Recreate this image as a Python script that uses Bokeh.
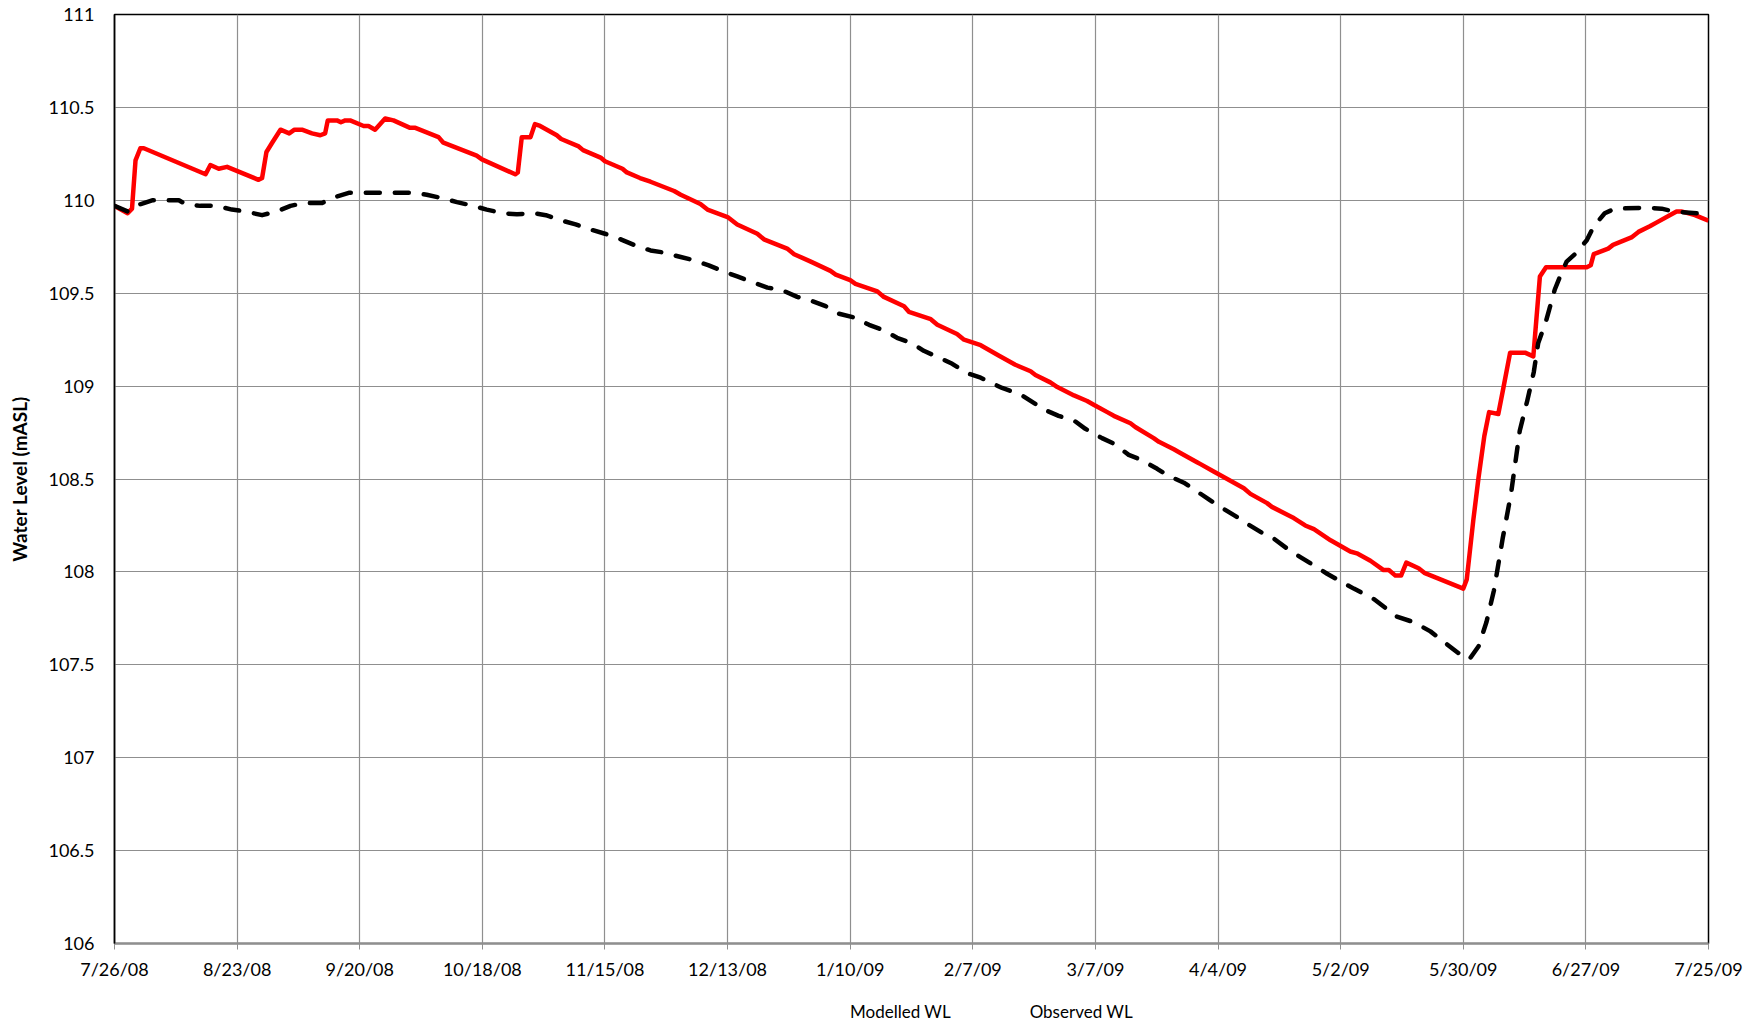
from bokeh.plotting import figure
from bokeh.layouts import column
from bokeh.models import FixedTicker, Legend, LegendItem, Range1d
from bokeh.embed import file_html
from bokeh.resources import INLINE

# ---- data (days since 7/26/08) ----
x_tick_days = [0, 28, 56, 84, 112, 140, 168, 196, 224, 252, 280, 308, 336, 364]
x_tick_labels = ["7/26/08", "8/23/08", "9/20/08", "10/18/08", "11/15/08", "12/13/08",
                 "1/10/09", "2/7/09", "3/7/09", "4/4/09", "5/2/09", "5/30/09",
                 "6/27/09", "7/25/09"]
y_ticks = [106, 106.5, 107, 107.5, 108, 108.5, 109, 109.5, 110, 110.5, 111]
y_tick_labels = ["106", "106.5", "107", "107.5", "108", "108.5", "109", "109.5",
                 "110", "110.5", "111"]
series_names = ["Modelled WL", "Observed WL"]

modelled_day = [0, 3, 4, 4.8, 5.9, 6.7, 20.8, 21.9, 23.8, 25.7, 32.9, 33.7, 34.7, 36,
                37.9, 39.9, 41.1, 42.8, 45.1, 47, 48.1, 48.7, 50.8, 51.7, 52.7, 53.8,
                56.9, 58, 59.5, 61.8, 63.7, 67.5, 68.7, 74, 75.1, 82.7, 83.9, 91.5,
                92.1, 93, 95, 96, 97.2, 101, 102, 106, 107, 111, 112, 116, 117, 120,
                122.4, 127.8, 129.3, 133.8, 135.4, 140, 142.2, 146.8, 148.3, 153.6,
                155.2, 159, 163.5, 164.7, 168, 169.2, 174.2, 175.7, 180.3, 181.4,
                186.4, 187.9, 192.4, 194, 197.8, 201.9, 205.7, 209.2, 210.3, 213.7,
                215.3, 219.1, 222.1, 223.6, 226.7, 228.2, 232, 233.1, 237.3, 238.5,
                241.9, 243.4, 247.2, 248, 251, 254.1, 257.9, 259.4, 263.2, 264.3,
                268.5, 269.3, 271.9, 273.9, 277.7, 279.2, 282.2, 283.7, 286.8, 289.8,
                291, 292.5, 293.8, 295, 297.8, 299.1, 308, 308.8, 310.3, 311.5, 312.8,
                313.9, 316, 317.2, 318.7, 322.1, 324, 325.5, 326.9, 336.2, 337.1,
                337.8, 341.1, 342.2, 346.4, 348, 350.6, 352.1, 356.7, 357.8, 360.9, 364]
modelled_wl = [109.97, 109.93, 109.955, 110.215, 110.28, 110.28, 110.14, 110.19, 110.17,
               110.18, 110.11, 110.12, 110.26, 110.31, 110.38, 110.36, 110.38, 110.38,
               110.36, 110.35, 110.36, 110.43, 110.43, 110.42, 110.43, 110.43, 110.40,
               110.40, 110.38, 110.44, 110.43, 110.39, 110.39, 110.34, 110.31, 110.24,
               110.22, 110.14, 110.15, 110.34, 110.34, 110.41, 110.40, 110.35, 110.33,
               110.29, 110.27, 110.23, 110.21, 110.17, 110.15, 110.12, 110.10, 110.05,
               110.03, 109.98, 109.95, 109.91, 109.87, 109.82, 109.79, 109.74, 109.71,
               109.67, 109.62, 109.60, 109.57, 109.55, 109.51, 109.48, 109.43, 109.40,
               109.36, 109.33, 109.28, 109.25, 109.22, 109.165, 109.115, 109.08, 109.06,
               109.02, 108.995, 108.95, 108.92, 108.90, 108.86, 108.84, 108.80, 108.78,
               108.72, 108.70, 108.66, 108.64, 108.59, 108.58, 108.54, 108.50, 108.45,
               108.42, 108.37, 108.35, 108.30, 108.29, 108.25, 108.23, 108.17, 108.15,
               108.11, 108.10, 108.06, 108.01, 108.01, 107.98, 107.98, 108.05, 108.02,
               107.995, 107.91, 107.96, 108.28, 108.51, 108.73, 108.86, 108.85, 108.995,
               109.18, 109.18, 109.16, 109.59, 109.64, 109.64, 109.65, 109.71, 109.74,
               109.76, 109.80, 109.83, 109.86, 109.88, 109.94, 109.94, 109.92, 109.89]

observed_day = [0, 3, 4.4, 6, 8.6, 12.8, 14.7, 16.2, 19.6, 23.4, 26.8, 29.9, 33.7, 37.1,
                40.2, 43.2, 47.4, 49.3, 53.5, 57.6, 64.1, 68.3, 71.3, 75.1, 78.2, 82, 85,
                88.8, 91.9, 95.8, 98.5, 102.3, 105.3, 109.1, 112, 115.6, 118.6, 122.4,
                125.1, 129.3, 131.9, 135.7, 138.8, 142.2, 145.6, 149.1, 152.1, 155.9,
                159, 162.4, 165.4, 168.8, 172.3, 175.7, 178.7, 182.2, 184.8, 188.6,
                191.3, 194.7, 197.8, 202.7, 206.9, 209.2, 212.6, 215.6, 219.4, 221.7,
                225.5, 228.2, 231.6, 234.3, 238.1, 240.4, 244.2, 246.8, 249.9, 252.5,
                256, 258.6, 262.1, 264.7, 268.1, 270.8, 274.2, 276.9, 279.9, 283, 287.5,
                292.8, 296.6, 300.5, 304.3, 307.6, 309.4, 311.5, 313.3, 315, 317, 318.9,
                320.9, 322.6, 324.1, 325.1, 326.9, 328.9, 330.1, 331.6, 333.5, 336.2,
                337.8, 340.3, 342.6, 349.9, 353.3, 356, 361.3, 364]
observed_wl = [109.97, 109.94, 109.955, 109.98, 110.00, 110.00, 110.00, 109.98, 109.97,
               109.97, 109.95, 109.94, 109.92, 109.94, 109.97, 109.985, 109.985, 110.01,
               110.04, 110.04, 110.04, 110.04, 110.03, 110.01, 109.99, 109.97, 109.95,
               109.93, 109.925, 109.93, 109.92, 109.89, 109.87, 109.84, 109.82, 109.79,
               109.76, 109.73, 109.72, 109.695, 109.68, 109.65, 109.62, 109.59, 109.56,
               109.53, 109.52, 109.48, 109.46, 109.43, 109.39, 109.37, 109.33, 109.30,
               109.26, 109.23, 109.19, 109.15, 109.12, 109.07, 109.045, 108.99, 108.955,
               108.92, 108.87, 108.84, 108.81, 108.77, 108.72, 108.69, 108.63, 108.605,
               108.555, 108.52, 108.48, 108.44, 108.39, 108.35, 108.30, 108.26, 108.21,
               108.18, 108.12, 108.08, 108.03, 107.99, 107.95, 107.91, 107.855, 107.76,
               107.73, 107.68, 107.61, 107.55, 107.53, 107.60, 107.73, 107.90, 108.18,
               108.42, 108.76, 108.92, 109.075, 109.23, 109.35, 109.52, 109.59, 109.67,
               109.71, 109.785, 109.86, 109.93, 109.955, 109.96, 109.955, 109.94, 109.93,
               109.91]

FONT = "Lato"
RED = "#ff0000"
BLACK = "#000000"
DASH = "14 15"

# ---------------- main chart ----------------
p = figure(width=1748, height=985, output_backend="svg", toolbar_location=None,
           x_range=Range1d(0, 364), y_range=Range1d(106, 111),
           min_border_left=114, min_border_right=40, min_border_top=14,
           min_border_bottom=42)
p.background_fill_color = "white"
p.border_fill_color = "white"
p.outline_line_color = "#000000"
p.outline_line_width = 1.5

p.xgrid.ticker = FixedTicker(ticks=x_tick_days)
p.ygrid.ticker = FixedTicker(ticks=y_ticks)
for g in (p.xgrid, p.ygrid):
    g.grid_line_color = "#8f8f8f"
    g.grid_line_width = 1.2

xa = p.xaxis[0]
xa.ticker = FixedTicker(ticks=x_tick_days)
xa.major_label_overrides = {d: l for d, l in zip(x_tick_days, x_tick_labels)}
xa.axis_line_color = "#8f8f8f"
xa.axis_line_width = 2
xa.major_tick_line_color = "#8f8f8f"
xa.major_tick_out = 6
xa.major_tick_in = 0
xa.minor_tick_line_color = None
xa.major_label_text_font = FONT
xa.major_label_text_font_size = "18px"
xa.major_label_text_color = "#000000"
xa.major_label_standoff = 8

ya = p.yaxis[0]
ya.ticker = FixedTicker(ticks=y_ticks)
ya.major_label_overrides = {t: l for t, l in zip(y_ticks, y_tick_labels)}
ya.axis_line_color = "#000000"
ya.axis_line_width = 1.5
ya.major_tick_line_color = None
ya.minor_tick_line_color = None
ya.major_tick_out = 0
ya.major_tick_in = 0
ya.major_label_text_font = FONT
ya.major_label_text_font_size = "18px"
ya.major_label_text_color = "#000000"
ya.major_label_standoff = 20
ya.axis_label = "Water Level (mASL)"
ya.axis_label_text_font = FONT
ya.axis_label_text_font_style = "bold"
ya.axis_label_text_font_size = "19px"
ya.axis_label_text_color = "#000000"
ya.axis_label_standoff = 14

p.line(modelled_day, modelled_wl, line_color=RED, line_width=4.5, line_join="round")
p.line(observed_day, observed_wl, line_color=BLACK, line_width=4.5,
       line_dash=DASH, line_cap="round", line_join="round")

# ---------------- legend strip below the chart ----------------
lg = figure(width=1748, height=39, output_backend="svg", toolbar_location=None,
            x_axis_type=None, y_axis_type=None,
            x_range=Range1d(0, 1), y_range=Range1d(0, 1),
            min_border_left=0, min_border_right=0, min_border_top=0,
            min_border_bottom=0)
lg.outline_line_color = None
lg.background_fill_color = "white"
lg.border_fill_color = "white"
lg.xgrid.visible = False
lg.ygrid.visible = False
k_mod = lg.line(x=[], y=[], line_color=RED, line_width=4.5)
k_obs = lg.line(x=[], y=[], line_color=BLACK, line_width=4.5,
                line_dash=DASH, line_cap="round")

legend = Legend(items=[LegendItem(label=series_names[0], renderers=[k_mod]),
                       LegendItem(label=series_names[1], renderers=[k_obs])],
                orientation="horizontal", location=(683, 2))
legend.glyph_width = 49
legend.glyph_height = 20
legend.label_height = 20
legend.label_standoff = 4
legend.spacing = 26
legend.padding = 0
legend.margin = 0
legend.border_line_color = None
legend.background_fill_alpha = 0
legend.label_text_font = FONT
legend.label_text_font_size = "17px"
legend.label_text_color = "#000000"
lg.add_layout(legend, "center")

layout = column(p, lg, spacing=0)
open("out.html", "w").write(file_html(layout, INLINE))
